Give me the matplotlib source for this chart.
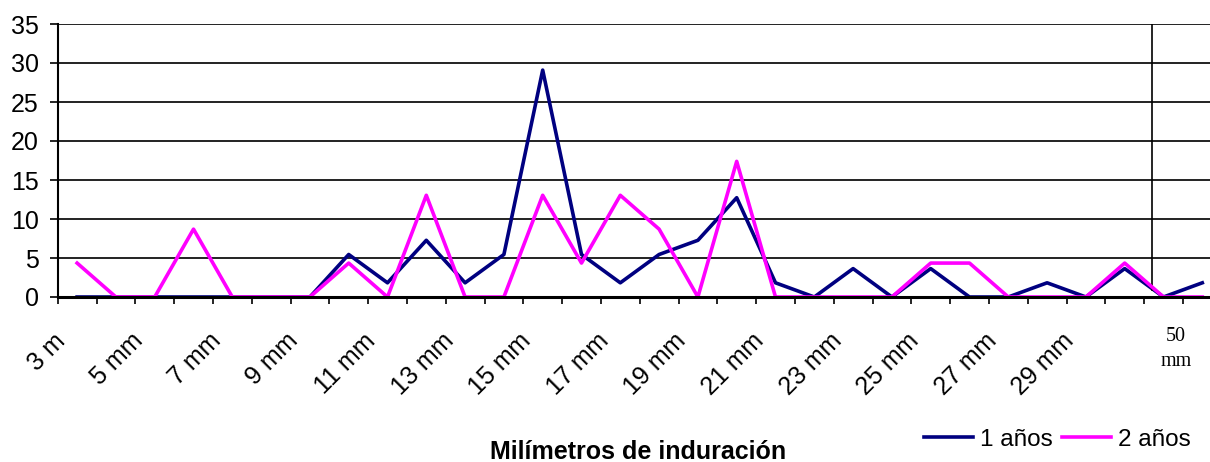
import matplotlib
matplotlib.use("Agg")
import matplotlib.pyplot as plt
import matplotlib.transforms as mtransforms
import numpy as np

plt.rcParams['font.family'] = ['Liberation Sans', 'DejaVu Sans']

# categories 3 mm ... (30 categories on the axis, every second one labelled)
categories = ["3 m"] + ["%d mm" % n for n in range(4, 33)]
shown_idx = list(range(0, 27, 2))

# percentages
uno = [0, 0, 0, 0, 0, 0, 0, 5.45, 1.82, 7.27, 1.82, 5.45, 29.09, 5.45, 1.82,
       5.45, 7.27, 12.73, 1.82, 0, 3.64, 0, 3.64, 0, 0, 1.82, 0, 3.64, 0, 1.82]
dos = [4.35, 0, 0, 8.7, 0, 0, 0, 4.35, 0, 13.04, 0, 0, 13.04, 4.35, 13.04,
       8.7, 0, 17.39, 0, 0, 0, 0, 4.35, 4.35, 0, 0, 0, 4.35, 0, 0]

W, H = 1210, 462
fig = plt.figure(figsize=(W / 100, H / 100), dpi=100)
x0, x1 = 57.7, 57.7 + 30 * 38.8
ax = fig.add_axes([x0 / W, 1 - 297 / H, (x1 - x0) / W, (297 - 24) / H])

x = np.arange(len(categories))
ax.plot(x, uno, color="#000080", lw=2.6, label="1 años", zorder=2)
ax.plot(x, dos, color="#FF00FF", lw=2.6, label="2 años", zorder=2.1)

ax.set_xlim(-0.5, len(categories) - 0.5)
ax.set_ylim(0, 35)
ax.set_yticks(range(0, 36, 5))
ax.yaxis.grid(True, color="#111111", lw=1.3)
ax.set_axisbelow(True)

for s in ["top", "right"]:
    ax.spines[s].set_visible(False)
ax.spines["left"].set_linewidth(1.5)
ax.spines["bottom"].set_linewidth(2.2)
ax.spines["bottom"].set_zorder(3)

ax.set_xticks(shown_idx)
ax.set_xticklabels([categories[i] for i in shown_idx], rotation=45,
                   ha="right", va="top", rotation_mode="anchor", fontsize=18)
ax.set_xticks(np.arange(-0.5, len(categories), 1), minor=True)
ax.tick_params(axis="x", which="major", length=0, pad=23)
ax.tick_params(axis="x", which="minor", length=5, width=1.2, direction="out")
ax.tick_params(axis="y", length=5.8, width=1.2, direction="out", pad=8, labelsize=18)

off = mtransforms.ScaledTranslation(-24 / 100, 0, fig.dpi_scale_trans)
for lab in ax.get_xticklabels():
    lab.set_transform(lab.get_transform() + off)

# vertical separator line drawn over the chart
ax.axvline(27.71, ymin=0.025, ymax=1, color="black", lw=1.2)

# extra label for 50 mm
fig.text(1176 / W, 1 - 349 / H, "50\nmm", ha="center", va="center",
         family=["Liberation Serif", "DejaVu Serif"], fontsize=14.5,
         linespacing=1.4)

fig.text(638 / W, 1 - 459 / H, "Milímetros de induración", ha="center",
         va="baseline", fontsize=18, fontweight="bold")

fig.legend(loc="center right", bbox_to_anchor=(1191 / W, 1 - 440 / H),
           ncol=2, frameon=False, fontsize=17.5, handlelength=2.0,
           handletextpad=0.3, columnspacing=0.4, borderpad=0,
           borderaxespad=0)

fig.savefig("out.png", dpi=100)
